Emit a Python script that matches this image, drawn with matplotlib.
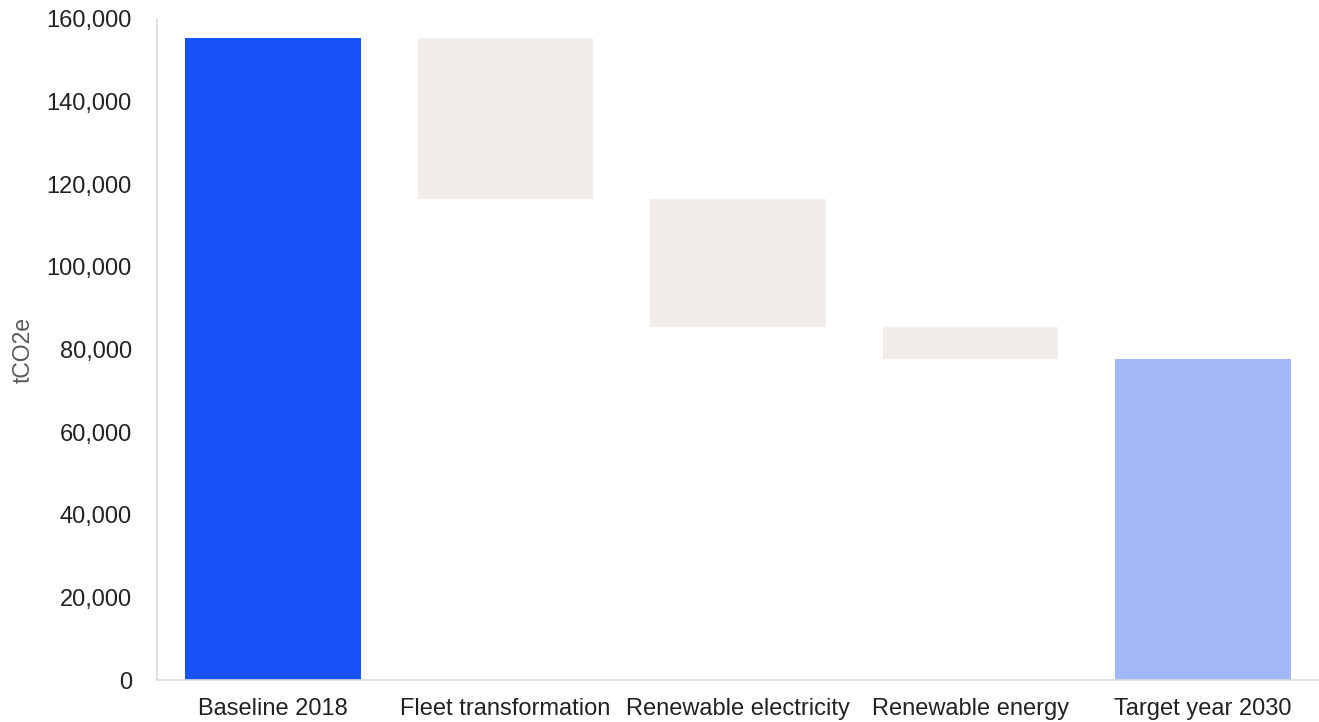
import numpy as np
import matplotlib.pyplot as plt
from matplotlib.ticker import FuncFormatter

plt.rcParams['font.family'] = ['Liberation Sans', 'DejaVu Sans']

categories = ['Baseline 2018', 'Fleet transformation', 'Renewable electricity',
              'Renewable energy', 'Target year 2030']
baseline = 155400
reductions = [38900, 31000, 7800]  # fleet, electricity, energy
target = baseline - sum(reductions)

# waterfall: floating bars for the reductions
levels = baseline - np.cumsum([0] + reductions)
bottoms = [0] + list(levels[1:]) + [0]
heights = [baseline] + reductions + [target]
colors = ['#1652F7', '#F2EDE9', '#F2EDE9', '#F2EDE9', '#A3B8F9']

fig = plt.figure(figsize=(13.19, 7.22), dpi=100)
ax = fig.add_axes([0.119, 0.058, 0.881, 0.9157])

x = np.arange(len(categories))
ax.bar(x, heights, bottom=bottoms, width=0.755, color=colors)

ax.set_xlim(-0.5, len(categories) - 0.5)
ax.set_ylim(0, 160000)
ax.set_yticks(np.arange(0, 160001, 20000))
ax.yaxis.set_major_formatter(FuncFormatter(lambda v, p: f'{int(v):,}'))
ax.set_xticks(x)
ax.set_xticklabels(categories)
ax.tick_params(length=0, labelsize=17, colors='#222222', pad=13)
ax.tick_params(axis='y', pad=18)
ax.set_ylabel('tCO2e', fontsize=16.5, color='#595959')
ax.yaxis.set_label_coords(-0.105, 0.5)

for s in ['top', 'right']:
    ax.spines[s].set_visible(False)
for s in ['left', 'bottom']:
    ax.spines[s].set_color('#D9D9D9')
    ax.spines[s].set_linewidth(1.2)

fig.savefig('out.png', dpi=100)
